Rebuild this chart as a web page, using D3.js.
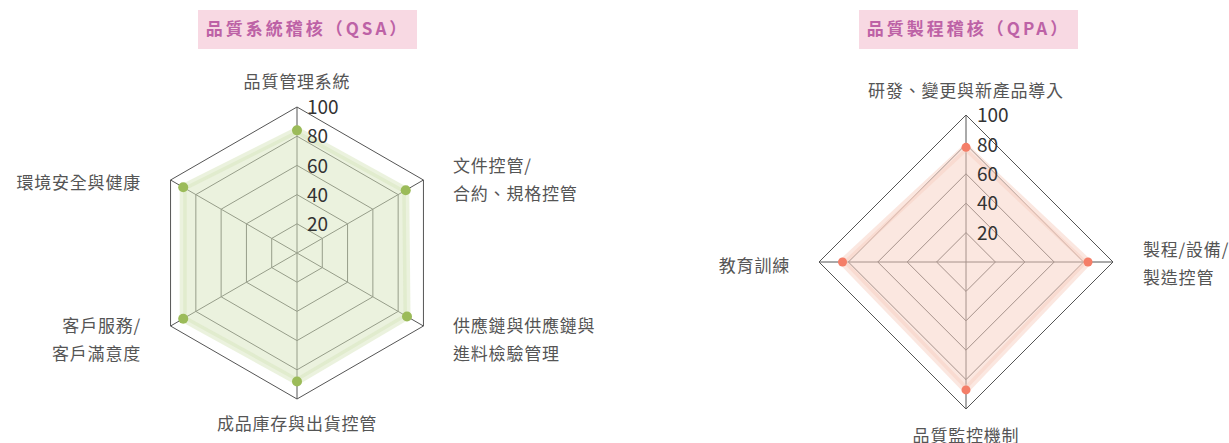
<!DOCTYPE html>
<html>
<head>
<meta charset="utf-8">
<script src="https://cdn.jsdelivr.net/npm/d3@7"></script>
<style>
  body { margin: 0; background: #fff; }
  svg { display: block; font-family: "Noto Sans CJK TC", "Noto Sans", sans-serif; }
</style>
</head>
<body>
<div id="chart"></div>
<script>
// QSA radar
const qsaAxes = [["品質管理系統"], ["文件控管/", "合約、規格控管"], ["供應鏈與供應鏈與", "進料檢驗管理"],
                 ["成品庫存與出貨控管"], ["客戶服務/", "客戶滿意度"], ["環境安全與健康"]];
const qsaValues = [84, 86, 87, 88, 90, 90];
// QPA radar
const qpaAxes = [["研發、變更與新產品導入"], ["製程/設備/", "製造控管"], ["品質監控機制"], ["教育訓練"]];
const qpaValues = [78, 83, 87, 84];
const ticks = [20, 40, 60, 80, 100];

const svg = d3.select('#chart').append('svg')
    .attr('width', 1229)
    .attr('height', 443);

function radar(opts) {
    const { cx, cy, R, axes, values, fill, dot, dotR, title, box } = opts;
    const g = svg.append('g').attr('transform', `translate(${cx},${cy})`);
    const r = d3.scaleLinear().domain([0, 100]).range([0, R]);
    const n = axes.length;
    const ang = i => i * 2 * Math.PI / n;
    const pt = (i, v) => [Math.sin(ang(i)) * r(v), -Math.cos(ang(i)) * r(v)];

    // grid rings
    ticks.forEach(t => {
        g.append('polygon')
            .attr('points', d3.range(n).map(i => pt(i, t).join(',')).join(' '))
            .attr('fill', 'none')
            .attr('stroke', '#555')
            .attr('stroke-width', 1);
    });
    d3.range(n).forEach(i => {
        const p = pt(i, 100);
        g.append('line').attr('x1', 0).attr('y1', 0).attr('x2', p[0]).attr('y2', p[1])
            .attr('stroke', '#555').attr('stroke-width', 1);
    });

    // area
    g.append('polygon')
        .attr('points', values.map((v, i) => pt(i, v).join(',')).join(' '))
        .attr('fill', fill).attr('fill-opacity', 0.5)
        .attr('stroke', fill).attr('stroke-opacity', 0.5)
        .attr('stroke-width', 7).attr('stroke-linejoin', 'round');

    g.selectAll('circle.dot').data(values).join('circle')
        .attr('class', 'dot')
        .attr('cx', (v, i) => pt(i, v)[0])
        .attr('cy', (v, i) => pt(i, v)[1])
        .attr('r', dotR)
        .attr('fill', dot);

    // tick labels
    g.selectAll('text.tick').data(ticks).join('text')
        .attr('class', 'tick')
        .attr('x', opts.tickDx)
        .attr('y', d => -r(d))
        .attr('dy', '0.38em')
        .attr('font-size', 19)
        .attr('fill', '#333')
        .text(d => d);

    // axis names
    axes.forEach((lines, i) => {
        const o = opts.labels[i];
        const t = g.append('text')
            .attr('text-anchor', o.anchor)
            .attr('font-size', 17)
            .attr('letter-spacing', '0.8px')
            .attr('fill', '#555');
        lines.forEach((s, k) => {
            t.append('tspan').attr('x', o.x).attr('y', o.y + k * 28).attr('dy', '0.35em').text(s);
        });
    });

    // title
    svg.append('rect')
        .attr('x', box[0]).attr('y', box[1]).attr('width', box[2]).attr('height', box[3])
        .attr('fill', '#f8d9e3');
    svg.append('text')
        .attr('x', box[0] + box[2] / 2).attr('y', box[1] + box[3] / 2)
        .attr('dy', '0.35em')
        .attr('text-anchor', 'middle')
        .attr('font-size', 17)
        .attr('font-weight', 'bold')
        .attr('letter-spacing', '3px')
        .attr('fill', '#bd62a6')
        .text(title);
}

radar({
    cx: 297, cy: 253, R: 146, axes: qsaAxes, values: qsaValues,
    fill: '#d8e6bd', dot: '#9bbb59', dotR: 5, tickDx: 10,
    title: '品質系統稽核（QSA）', box: [198, 10, 219, 39],
    labels: [
        { x: 0, y: -171, anchor: 'middle' },
        { x: 156, y: -87, anchor: 'start' },
        { x: 156, y: 73, anchor: 'start' },
        { x: 0, y: 171, anchor: 'middle' },
        { x: -156, y: 73, anchor: 'end' },
        { x: -156, y: -70, anchor: 'end' }
    ]
});

radar({
    cx: 966, cy: 262, R: 147, axes: qpaAxes, values: qpaValues,
    fill: '#f7cfc2', dot: '#f47e68', dotR: 4.5, tickDx: 11,
    title: '品質製程稽核（QPA）', box: [859, 10, 219, 39],
    labels: [
        { x: 0, y: -171, anchor: 'middle' },
        { x: 177, y: -12, anchor: 'start' },
        { x: 0, y: 174, anchor: 'middle' },
        { x: -176, y: 4, anchor: 'end' }
    ]
});
</script>
</body>
</html>
